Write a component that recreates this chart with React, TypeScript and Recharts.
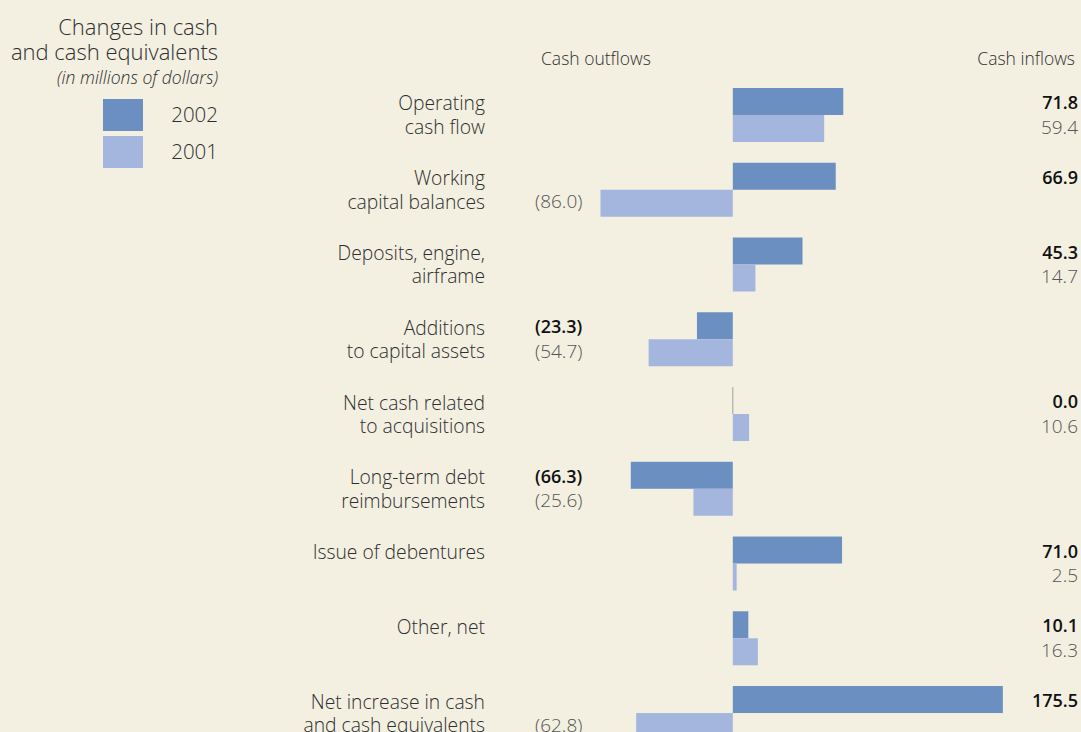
import React from 'react';
import { BarChart, Bar, XAxis, YAxis, LabelList } from 'recharts';

const categories = [
  ['Operating', 'cash flow'],
  ['Working', 'capital balances'],
  ['Deposits, engine,', 'airframe'],
  ['Additions', 'to capital assets'],
  ['Net cash related', 'to acquisitions'],
  ['Long-term debt', 'reimbursements'],
  ['Issue of debentures'],
  ['Other, net'],
  ['Net increase in cash', 'and cash equivalents'],
];
const values2002 = [71.8, 66.9, 45.3, -23.3, 0.0, -66.3, 71.0, 10.1, 175.5];
const values2001 = [59.4, -86.0, 14.7, -54.7, 10.6, -25.6, 2.5, 16.3, -62.8];
const seriesNames = ['2002', '2001'];

const data = categories.map((lines, i) => ({
  name: lines.join(' '),
  lines,
  y2002: values2002[i],
  y2001: values2001[i],
}));

const BG = '#F3F0E2';
const DARK = '#6A8FC0';
const LIGHT = '#A4B6DD';
const TEXT = '#2e2e2e';
const FONT = '"Open Sans", "Noto Sans", sans-serif';

const LABEL_X = 485;
const NEG_X = 535;
const POS_X = 1078;

const fmt = (v: number) => (v < 0 ? `(${Math.abs(v).toFixed(1)})` : v.toFixed(1));

const CategoryTick = (props: any) => {
  const { y, payload } = props;
  const lines: string[] = data[payload.index]?.lines ?? [payload.value];
  return (
    <g>
      {lines.map((t, k) => (
        <text
          key={k}
          x={LABEL_X}
          y={y - 12 + k * 23.5}
          textAnchor="end"
          dominantBaseline="central"
          fontFamily={FONT}
          fontWeight={300}
          fontSize={19.3}
          fill={TEXT}
        >
          {t}
        </text>
      ))}
    </g>
  );
};

const makeValueLabel = (bold: boolean) => (props: any) => {
  const { y, height, value } = props;
  const neg = value < 0;
  return (
    <text
      x={neg ? NEG_X : POS_X}
      y={y + height / 2 + (bold ? 0.5 : -2)}
      textAnchor={neg ? 'start' : 'end'}
      dominantBaseline="central"
      fontFamily={FONT}
      fontWeight={bold ? 600 : 300}
      fontSize={bold ? 18 : 19}
      fill={bold ? '#111' : '#555'}
    >
      {fmt(value)}
    </text>
  );
};

const BarShape = (props: any) => {
  const { x, y, width, height, fill, value } = props;
  const v = Array.isArray(value) ? value[1] - value[0] : value;
  if (!width || Math.abs(width) < 0.5 || v === 0) {
    return <line x1={x} x2={x} y1={y} y2={y + height} stroke="#a0a0a0" strokeWidth={1} />;
  }
  const left = width < 0 ? x + width : x;
  return <rect x={left} y={y} width={Math.abs(width)} height={height} fill={fill} />;
};

export default function App() {
  return (
    <div
      style={{
        position: 'fixed',
        left: 0,
        top: 0,
        width: 1081,
        height: 732,
        overflow: 'hidden',
        background: BG,
        fontFamily: FONT,
        color: TEXT,
      }}
    >
      <div style={{ position: 'absolute', right: 1081 - 218, top: 14, textAlign: 'right', fontSize: 22, fontWeight: 300, lineHeight: '25px', whiteSpace: 'nowrap' }}>
        Changes in cash
        <br />
        and cash equivalents
      </div>
      <div style={{ position: 'absolute', right: 1081 - 218, top: 65, fontSize: 17.5, fontStyle: 'italic', fontWeight: 300, whiteSpace: 'nowrap' }}>
        (in millions of dollars)
      </div>
      {seriesNames.map((s, i) => (
        <React.Fragment key={s}>
          <div style={{ position: 'absolute', left: 103, top: 99 + i * 37, width: 40, height: 32, background: i === 0 ? DARK : LIGHT }} />
          <div style={{ position: 'absolute', right: 1081 - 218, top: 100 + i * 37, fontSize: 20.5, fontWeight: 300, lineHeight: '28px' }}>{s}</div>
        </React.Fragment>
      ))}
      <div style={{ position: 'absolute', left: 541, top: 46, fontSize: 17.5, fontWeight: 300 }}>Cash outflows</div>
      <div style={{ position: 'absolute', right: 1081 - 1075, top: 46, fontSize: 17.5, fontWeight: 300 }}>Cash inflows</div>
      <BarChart
        width={1081}
        height={760}
        data={data}
        layout="vertical"
        margin={{ top: 77.6, right: 2, bottom: 9.6, left: 0 }}
        barCategoryGap={10.4}
        barGap={0}
        style={{ position: 'absolute', left: 0, top: 0 }}
      >
        <XAxis type="number" domain={[-150, 225]} hide />
        <YAxis
          type="category"
          dataKey="name"
          width={502}
          axisLine={false}
          tickLine={false}
          interval={0}
          tick={<CategoryTick />}
        />
        <Bar dataKey="y2002" fill={DARK} isAnimationActive={false} shape={<BarShape />}>
          <LabelList dataKey="y2002" content={makeValueLabel(true)} />
        </Bar>
        <Bar dataKey="y2001" fill={LIGHT} isAnimationActive={false} shape={<BarShape />}>
          <LabelList dataKey="y2001" content={makeValueLabel(false)} />
        </Bar>
      </BarChart>
    </div>
  );
}
